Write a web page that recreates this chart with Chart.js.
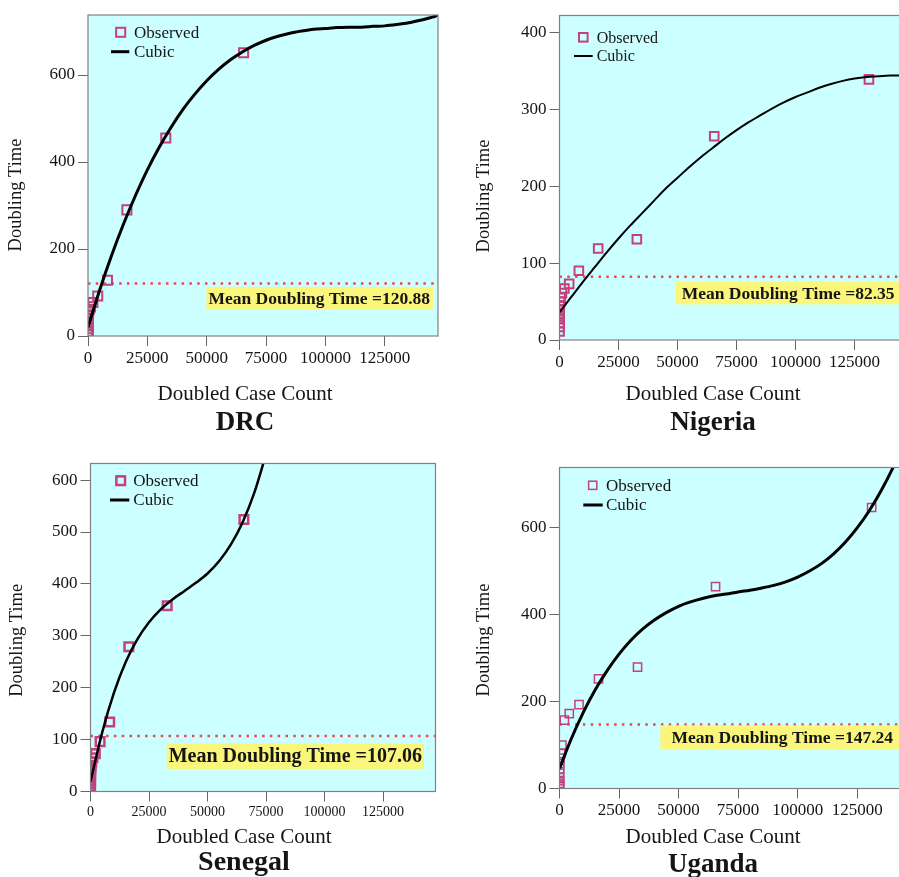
<!DOCTYPE html>
<html>
<head>
<meta charset="utf-8">
<title>Doubling time by doubled case count</title>
<script src="https://cdn.jsdelivr.net/npm/chart.js@4.4.1/dist/chart.umd.min.js"></script>
<style>
  html, body { margin: 0; padding: 0; background: #fff; }
  #page { position: relative; width: 899px; height: 877px; overflow: hidden; background: #fff; }
  #page canvas { position: absolute; }
</style>
</head>
<body>
<div id="page">
  <canvas id="drcChart"></canvas>
  <canvas id="nigeriaChart"></canvas>
  <canvas id="senegalChart"></canvas>
  <canvas id="ugandaChart"></canvas>
</div>
<script>
// --- DATA ---
const countries = ['DRC', 'Nigeria', 'Senegal', 'Uganda'];
const xAxisTitle = 'Doubled Case Count';
const yAxisTitle = 'Doubling Time';
const meanLabel = 'Mean Doubling Time =';

// doubled case counts (x of the observed points)
const caseCounts = [1, 2, 4, 8, 16, 32, 64, 128, 256, 512, 1024, 2048, 4096, 8192, 16384, 32768, 65536, 131072];

// observed doubling times
const drcObserved = [2, 5, 10, 17, 25, 33, 41, 49, 55, 61, 67, 77, 92, 128, 290, 455, 651];
const nigeriaObserved = [11, 17, 22, 27, 31, 35, 40, 45, 50, 55, 61, 67, 73, 90, 119, 131, 265, 339];
const senegalObserved = [5, 10, 15, 20, 26, 32, 38, 44, 50, 57, 65, 73, 96, 134, 279, 358, 524];
const ugandaObserved = [4, 8, 12, 18, 25, 35, 45, 57, 70, 80, 100, 157, 172, 193, 252, 279, 464, 646];

// cubic fit lines
const longCurveCounts = [0, 5000, 10000, 15000, 20000, 25000, 30000, 35000, 40000, 45000, 50000, 55000, 60000, 65000, 70000,
  75000, 80000, 85000, 90000, 95000, 100000, 105000, 110000, 115000, 120000, 125000, 130000, 135000, 140000, 145000, 147400];
const senegalCurveCounts = [0, 5000, 10000, 15000, 20000, 25000, 30000, 35000, 40000, 45000, 50000, 55000, 60000, 65000, 70000, 75000];
const drcCubic = [20, 107, 186, 258, 323, 382, 434, 480, 521, 556, 587, 613, 635, 653, 668,
  680, 689, 696, 701, 705, 707, 709, 710, 710, 712, 713, 716, 720, 726, 733, 738];
const nigeriaCubic = [36, 56, 76, 95, 114, 132, 149, 165, 181, 197, 211, 225, 238, 250, 262,
  273, 283, 292, 301, 309, 316, 322, 328, 333, 337, 340, 342, 343, 344, 344, 344];
const senegalCubic = [19, 114, 190, 249, 293, 326, 351, 370, 386, 402, 420, 444, 476, 519, 576, 650];
const ugandaCubic = [46, 115, 175, 227, 271, 309, 341, 367, 388, 405, 419, 429, 437, 443, 447,
  452, 456, 461, 467, 475, 486, 500, 517, 539, 566, 599, 638, 684, 737, 798];

const meanTimes = [120.88, 82.35, 107.06, 147.24];

// axes
const xMax = 147400;
const xTicks = [0, 25000, 50000, 75000, 100000, 125000];
const drcTicks = [0, 200, 400, 600];
const nigeriaTicks = [0, 100, 200, 300, 400];
const senegalTicks = [0, 100, 200, 300, 400, 500, 600];
const ugandaTicks = [0, 200, 400, 600];

// --- STYLE ---
const serif = "'Liberation Serif', 'Times New Roman', serif";
const plotFill = '#ccffff';
const observedColor = '#c4407f';
const meanColor = '#f0474b';
const labelFill = '#faf67c';
const textColor = '#151515';
const frameColor = '#808080';
const tickMarkColor = '#666666';

const toPoints = (xs, ys) => ys.map((y, i) => ({ x: xs[i], y: y }));

// panel geometry in page pixels
const panels = [
  {
    id: 'drcChart', observed: drcObserved, curveX: longCurveCounts, curveY: drcCubic, yMax: 738, yTicks: drcTicks,
    canvas: { left: 0, top: 0, width: 450, height: 440 },
    area: { left: 88, top: 15, right: 438, bottom: 336 },
    tickSize: 17, xTickSize: 17, curveWidth: 3, markerRadius: 6.4, markerWidth: 2,
    legend: { size: 17, markX: 32.7, markY: 17.3, textX: 46, lineX0: 23, lineX1: 41.3, lineY: 36.7, lineWidth: 3 },
    label: { size: 17.5, padL: 2, padR: 3, inset: 5, gap: 3.5, height: 22.5 },
    titles: { x: [245, 400], country: [245, 430], countrySize: 27, y: [16.5, 195] }
  },
  {
    id: 'nigeriaChart', observed: nigeriaObserved, curveX: longCurveCounts, curveY: nigeriaCubic, yMax: 422, yTicks: nigeriaTicks,
    canvas: { left: 450, top: 0, width: 470, height: 440 },
    area: { left: 559.5, top: 15.5, right: 907.5, bottom: 340 },
    tickSize: 17, xTickSize: 17, curveWidth: 2, markerRadius: 6.1, markerWidth: 2,
    legend: { size: 16, markX: 23.8, markY: 21.8, textX: 37.2, lineX0: 14.5, lineX1: 33.2, lineY: 40.5, lineWidth: 2 },
    label: { size: 17.5, padL: 6, padR: 6, inset: 7, gap: 5, height: 22.7 },
    titles: { x: [263, 400], country: [263, 430], countrySize: 27, y: [33.7, 196] }
  },
  {
    id: 'senegalChart', observed: senegalObserved, curveX: senegalCurveCounts, curveY: senegalCubic, yMax: 632, yTicks: senegalTicks,
    canvas: { left: 0, top: 440, width: 450, height: 437 },
    area: { left: 90.5, top: 463.5, right: 435.5, bottom: 791.5 },
    tickSize: 17, xTickSize: 14, curveWidth: 2.5, markerRadius: 6.1, markerWidth: 2.5,
    legend: { size: 17, markX: 30.2, markY: 17.2, textX: 42.8, lineX0: 19.5, lineX1: 38.8, lineY: 36.5, lineWidth: 3 },
    label: { size: 20, padL: 2, padR: 2, inset: 11.5, gap: 7.4, height: 25.6 },
    titles: { x: [244, 402.7], country: [244, 430], countrySize: 28, y: [16.7, 200.3] }
  },
  {
    id: 'ugandaChart', observed: ugandaObserved, curveX: longCurveCounts, curveY: ugandaCubic, yMax: 738, yTicks: ugandaTicks,
    canvas: { left: 450, top: 440, width: 470, height: 437 },
    area: { left: 559.5, top: 467.5, right: 910.5, bottom: 788.5 },
    tickSize: 17, xTickSize: 17, curveWidth: 3, markerRadius: 5.8, markerWidth: 1.5,
    legend: { size: 17, markX: 33.2, markY: 17.8, textX: 46.5, lineX0: 23.8, lineX1: 43.2, lineY: 37.5, lineWidth: 3 },
    label: { size: 17.5, padL: 11, padR: 12, inset: 5.5, gap: 1, height: 24 },
    titles: { x: [263, 402.7], country: [263, 431.7], countrySize: 27, y: [34, 200] }
  }
];

// background, frame, legend, mean label and titles for one panel
function makeDecor(p, country, mean) {
  return {
    id: 'panelDecor',
    beforeDraw(chart) {
      const { ctx, chartArea: a } = chart;
      ctx.save();
      ctx.fillStyle = plotFill;
      ctx.fillRect(a.left, a.top, a.right - a.left, a.bottom - a.top);
      ctx.restore();
    },
    afterDatasetsDraw(chart) {
      const { ctx, chartArea: a, scales } = chart;
      const lab = p.label;
      const text = meanLabel + mean.toFixed(2);
      const lineY = scales.y.getPixelForValue(mean);
      ctx.save();
      ctx.font = `bold ${lab.size}px ${serif}`;
      const w = ctx.measureText(text).width;
      const right = a.right - lab.inset;
      const left = right - w - lab.padL - lab.padR;
      const top = lineY + lab.gap;
      ctx.fillStyle = labelFill;
      ctx.fillRect(left, top, right - left, lab.height);
      ctx.fillStyle = textColor;
      ctx.textAlign = 'left';
      ctx.textBaseline = 'middle';
      ctx.fillText(text, left + lab.padL, top + lab.height / 2 + 1);
      ctx.restore();
    },
    afterDraw(chart) {
      const { ctx, chartArea: a } = chart;
      const lg = p.legend;
      const t = p.titles;
      ctx.save();
      // frame
      ctx.strokeStyle = frameColor;
      ctx.lineWidth = 1.2;
      ctx.strokeRect(a.left, a.top, a.right - a.left, a.bottom - a.top);

      // legend
      const ds = chart.data.datasets;
      const half = p.markerRadius * Math.SQRT1_2;
      ctx.strokeStyle = observedColor;
      ctx.lineWidth = p.markerWidth;
      ctx.strokeRect(a.left + lg.markX - half, a.top + lg.markY - half, half * 2, half * 2);
      ctx.strokeStyle = '#000';
      ctx.lineWidth = lg.lineWidth;
      ctx.beginPath();
      ctx.moveTo(a.left + lg.lineX0, a.top + lg.lineY);
      ctx.lineTo(a.left + lg.lineX1, a.top + lg.lineY);
      ctx.stroke();
      ctx.fillStyle = textColor;
      ctx.font = `${lg.size}px ${serif}`;
      ctx.textAlign = 'left';
      ctx.textBaseline = 'middle';
      ctx.fillText(ds[1].label, a.left + lg.textX, a.top + lg.markY + 1);
      ctx.fillText(ds[0].label, a.left + lg.textX, a.top + lg.lineY + 1);

      // axis titles and country name
      ctx.textAlign = 'center';
      ctx.textBaseline = 'alphabetic';
      ctx.font = `21px ${serif}`;
      ctx.fillText(xAxisTitle, t.x[0], t.x[1]);
      ctx.font = `bold ${t.countrySize}px ${serif}`;
      ctx.fillText(country, t.country[0], t.country[1]);
      ctx.translate(t.y[0], t.y[1]);
      ctx.rotate(-Math.PI / 2);
      ctx.textBaseline = 'middle';
      ctx.font = `18.5px ${serif}`;
      ctx.fillText(yAxisTitle, 0, 0);
      ctx.restore();
    }
  };
}

function buildPanel(p, index) {
  const canvas = document.getElementById(p.id);
  canvas.width = p.canvas.width;
  canvas.height = p.canvas.height;
  canvas.style.left = p.canvas.left + 'px';
  canvas.style.top = p.canvas.top + 'px';

  const xAxisHeight = 40;
  const areaTop = p.area.top - p.canvas.top;
  const areaBottom = p.area.bottom - p.canvas.top;
  const yAxisWidth = p.area.left - p.canvas.left;
  const mean = meanTimes[index];

  return new Chart(canvas, {
    type: 'scatter',
    data: {
      datasets: [
        {
          label: 'Cubic',
          data: toPoints(p.curveX, p.curveY),
          showLine: true,
          borderColor: '#000',
          borderWidth: p.curveWidth,
          pointRadius: 0,
          cubicInterpolationMode: 'monotone',
          order: 0
        },
        {
          label: 'Observed',
          data: toPoints(caseCounts, p.observed),
          pointStyle: 'rect',
          pointRadius: p.markerRadius,
          pointBorderWidth: p.markerWidth,
          pointBorderColor: observedColor,
          pointBackgroundColor: 'rgba(0,0,0,0)',
          borderColor: observedColor,
          backgroundColor: 'rgba(0,0,0,0)',
          clip: 0,
          order: 1
        },
        {
          label: 'Mean',
          data: [{ x: 0, y: mean }, { x: xMax, y: mean }],
          showLine: true,
          borderColor: meanColor,
          borderWidth: 2.5,
          borderDash: [2.5, 5.3],
          pointRadius: 0,
          order: 2
        }
      ]
    },
    options: {
      responsive: false,
      animation: false,
      events: [],
      layout: {
        padding: {
          left: 0,
          top: areaTop,
          right: p.canvas.left + p.canvas.width - p.area.right,
          bottom: p.canvas.height - areaBottom - xAxisHeight
        }
      },
      plugins: {
        legend: { display: false },
        title: { display: false },
        tooltip: { enabled: false }
      },
      scales: {
        x: {
          type: 'linear',
          min: 0,
          max: xMax,
          afterBuildTicks: s => { s.ticks = xTicks.map(v => ({ value: v })); },
          afterFit: s => { s.height = xAxisHeight; },
          grid: { drawOnChartArea: false, drawTicks: true, tickLength: 10, color: tickMarkColor },
          border: { display: false },
          ticks: {
            autoSkip: false, maxRotation: 0, minRotation: 0, padding: 2, color: textColor,
            font: { family: serif, size: p.xTickSize },
            callback: v => String(v)
          }
        },
        y: {
          type: 'linear',
          min: 0,
          max: p.yMax,
          afterBuildTicks: s => { s.ticks = p.yTicks.map(v => ({ value: v })); },
          afterFit: s => { s.width = yAxisWidth; },
          grid: { drawOnChartArea: false, drawTicks: true, tickLength: 10, color: tickMarkColor },
          border: { display: false },
          ticks: {
            autoSkip: false, padding: 3, color: textColor,
            font: { family: serif, size: p.tickSize },
            callback: v => String(v)
          }
        }
      }
    },
    plugins: [makeDecor(p, countries[index], mean)]
  });
}

panels.forEach(buildPanel);
</script>
</body>
</html>
